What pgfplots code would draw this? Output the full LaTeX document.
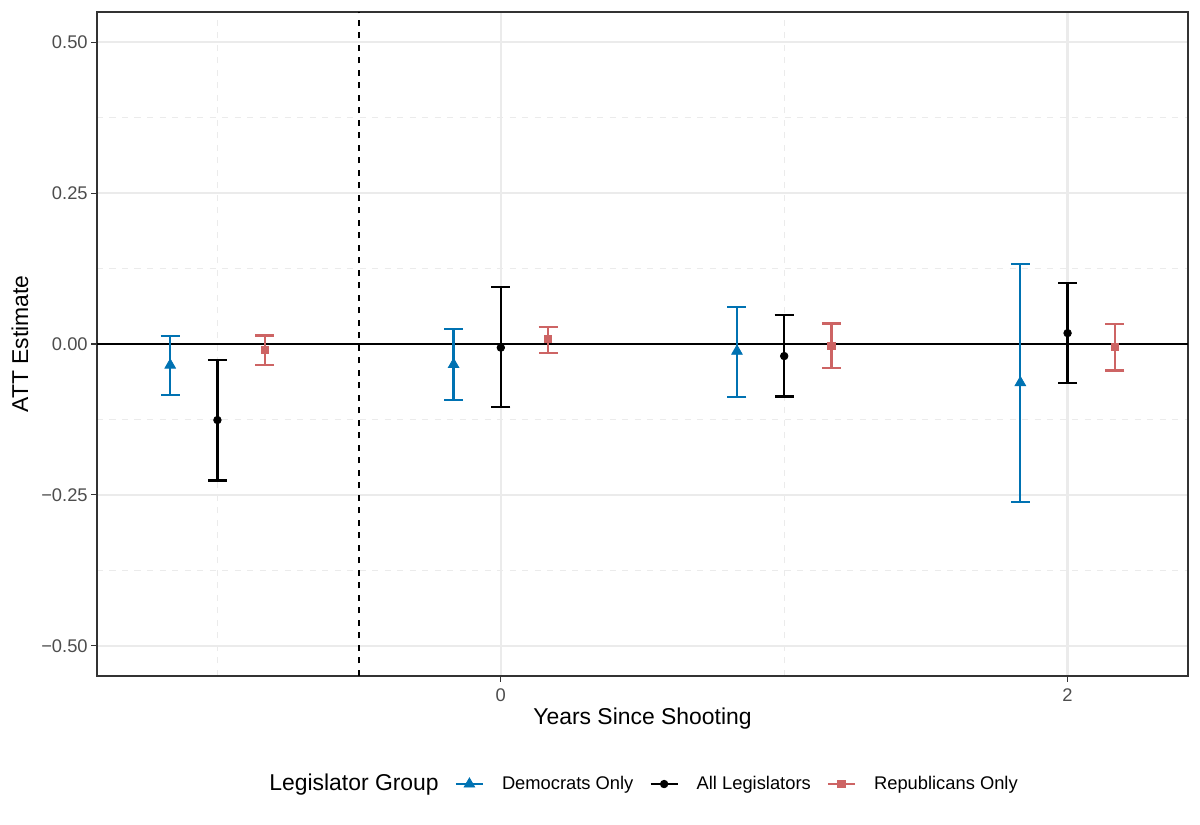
\documentclass[border=0pt]{standalone}
\usepackage{pgfplots}
\usepackage{pgfplotstable}
\pgfplotsset{compat=1.18}
\usepackage{fontspec}
\setmainfont{Liberation Sans}
\definecolor{dem}{RGB}{0,114,178}
\definecolor{rep}{RGB}{205,100,100}
\definecolor{grey20}{RGB}{51,51,51}
\definecolor{grey30}{RGB}{77,77,77}
\definecolor{grey92}{RGB}{235,235,235}

\pgfplotstableread{
x y ep em
-1.16667 -0.035 0.048 0.050
-0.16667 -0.034 0.059 0.059
0.83333 -0.012 0.073 0.076
1.83333 -0.064 0.196 0.198
}\demdata
\pgfplotstableread{
x y ep em
-1 -0.126 0.099 0.100
0 -0.006 0.100 0.098
1 -0.020 0.068 0.067
2 0.018 0.083 0.082
}\alldata
\pgfplotstableread{
x y ep em
-0.83333 -0.010 0.024 0.025
0.16667 0.008 0.020 0.023
1.16667 -0.003 0.037 0.037
2.16667 -0.005 0.038 0.039
}\repdata

\begin{document}
\begin{tikzpicture}
\useasboundingbox (0,0) rectangle (576pt,396pt);
\begin{axis}[
  at={(46.56pt,71.52pt)}, anchor=south west,
  scale only axis, width=523.68pt, height=318.72pt,
  xmin=-1.425, xmax=2.425, ymin=-0.55, ymax=0.55,
  xtick={0,2}, xticklabels={0,2},
  minor xtick={-1,1},
  ytick={-0.5,-0.25,0,0.25,0.5},
  yticklabels={−0.50,−0.25,0.00,0.25,0.50},
  minor ytick={-0.375,-0.125,0.125,0.375},
  xtick pos=lower, ytick pos=left,
  tick align=outside, major tick length=2.75pt, minor tick length=0pt,
  axis line style={grey20, line width=0.5pt},
  tick style={grey20, line width=0.5pt},
  ticklabel style={font=\fontsize{8.8}{10}\selectfont, text=grey30},
  yticklabel style={xshift=1.8pt},
  grid=both,
  major grid style={grey92, line width=1.07pt},
  minor grid style={grey92, line width=0.6pt, dash pattern=on 3pt off 3pt},
  xlabel={Years Since Shooting},
  ylabel={ATT Estimate},
  xlabel style={at={(axis description cs:0.5,-0.0646)}, anchor=center, font=\fontsize{11}{13}\selectfont},
  ylabel style={at={(axis description cs:-0.0707,0.5)}, anchor=center, font=\fontsize{11}{13}\selectfont},
  legend style={at={(axis description cs:0.5,-0.1627)}, anchor=center, xshift=-3.8pt, draw=none, fill=none,
    legend columns=-1, font=\fontsize{8.8}{10}\selectfont,
    nodes={inner sep=0pt},
    /tikz/every odd column/.append style={column sep=8.6pt},
    /tikz/every even column/.append style={column sep=7.7pt}},
  legend image code/.code={\draw[#1, line width=1.07pt] (0pt,0pt) -- (13pt,0pt); \draw[#1, only marks] plot coordinates {(6.5pt,0pt)};},
  error bars/y dir=both, error bars/y explicit,
]
\addlegendimage{empty legend}
\addlegendentry{\fontsize{11}{13}\selectfont Legislator Group}
\addplot[black, line width=0.9pt, forget plot] coordinates {(-1.425,0) (2.425,0)};
\addplot[black, line width=0.9pt, dashed, forget plot] coordinates {(-0.5,-0.55) (-0.5,0.55)};
\addplot[dem, only marks, mark=triangle*, mark size=2.9pt,
  error bars/error bar style={line width=1.07pt, solid},
  error bars/error mark options={rotate=90, mark size=4.56pt, line width=1.07pt}]
  table[x=x, y=y, y error plus=ep, y error minus=em] {\demdata};
\addlegendentry{Democrats Only}
\addplot[black, only marks, mark=*, mark size=1.8pt,
  error bars/error bar style={line width=1.07pt, solid},
  error bars/error mark options={rotate=90, mark size=4.56pt, line width=1.07pt}]
  table[x=x, y=y, y error plus=ep, y error minus=em] {\alldata};
\addlegendentry{All Legislators}
\addplot[rep, only marks, mark=square*, mark size=1.8pt,
  error bars/error bar style={line width=1.07pt, solid},
  error bars/error mark options={rotate=90, mark size=4.56pt, line width=1.07pt}]
  table[x=x, y=y, y error plus=ep, y error minus=em] {\repdata};
\addlegendentry{Republicans Only}
\end{axis}
\end{tikzpicture}
\end{document}
